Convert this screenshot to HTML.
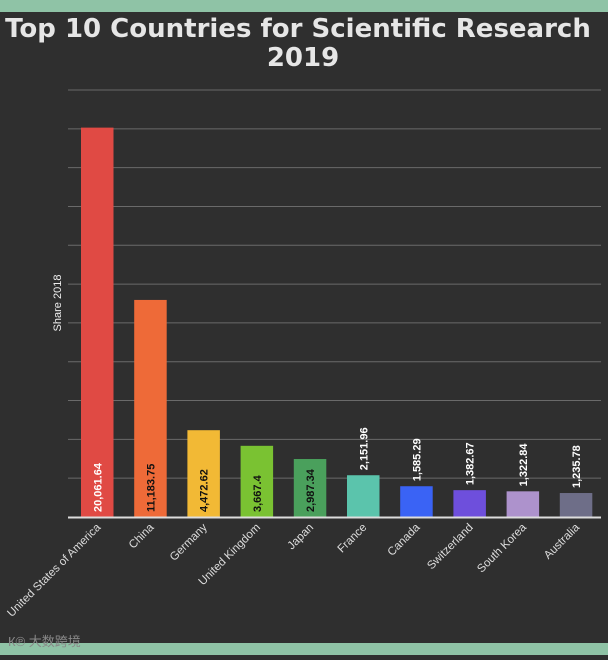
<!DOCTYPE html>
<html><head><meta charset="utf-8"><style>
body{margin:0;width:608px;height:655px;background:#2f2f2f;overflow:hidden;font-family:"Liberation Sans","Noto Sans CJK SC",sans-serif}
</style></head><body>
<svg width="608" height="655" xmlns="http://www.w3.org/2000/svg">
<rect x="0" y="0" width="608" height="12" fill="#8fc3a6"/>
<rect x="0" y="643" width="608" height="12" fill="#8fc3a6"/>
<text x="298" y="37" text-anchor="middle" fill="#e6e6e6" font-size="26" font-weight="bold" font-family="DejaVu Sans, sans-serif">Top 10 Countries for Scientific Research</text>
<text x="303" y="66" text-anchor="middle" fill="#e6e6e6" font-size="26" font-weight="bold" font-family="DejaVu Sans, sans-serif">2019</text>
<text transform="translate(61,303) rotate(-90)" text-anchor="middle" fill="#eee" font-size="11">Share 2018</text>
<g id="grid"></g><g id="bars"></g>
<line x1="68" x2="601" y1="517.5" y2="517.5" stroke="#ddd" stroke-width="2"/>
<text x="8" y="646" fill="#888" font-size="13">К℗ 大数跨境</text>
</svg>
<script>
const categories=["United States of America","China","Germany","United Kingdom","Japan","France","Canada","Switzerland","South Korea","Australia"];
const values=[20061.64,11183.75,4472.62,3667.4,2987.34,2151.96,1585.29,1382.67,1322.84,1235.78];
const labels=["20,061.64","11,183.75","4,472.62","3,667.4","2,987.34","2,151.96","1,585.29","1,382.67","1,322.84","1,235.78"];
const colors=["#e04a44","#ee6a38","#f2b935","#7ac232","#4aa05c","#5bc4ac","#3a63f5","#6e4fdc","#ad92cc","#6e6e88"];
const yMax=22000, yStep=2000;
const NS="http://www.w3.org/2000/svg";
const x0=68,x1=600,y0=517,y1=90;
const y=v=>y0-(v/yMax)*(y0-y1);
const band=(x1-x0)/categories.length;
const g=document.getElementById('grid'),b=document.getElementById('bars');
function mk(t,a,p){const e=document.createElementNS(NS,t);for(const k in a)e.setAttribute(k,a[k]);p.appendChild(e);return e;}
for(let v=yStep;v<=yMax;v+=yStep){
 const l=mk('line',{x1:x0,x2:x1+1,y1:y(v),y2:y(v),stroke:'#6a6a6a','stroke-width':1},g);
 
 
}
categories.forEach((c,i)=>{
 const bx=x0+13+i*band, w=32.5, top=y(values[i]), cx=bx+w/2;
 const r=mk('rect',{x:bx,y:top,width:w,height:y0-top,fill:colors[i]},b);
 
 
 const inside=(y0-top)>52;
 let t;
 if(inside){
  t=mk('text',{transform:`translate(${cx+4},${y0-5}) rotate(-90)`,fill:i==0?'#fff':'#111','font-size':11,'font-weight':'bold'},b);
 } else {
  t=mk('text',{transform:`translate(${cx+4},${top-5}) rotate(-90)`,fill:'#fff','font-size':11,'font-weight':'bold'},b);
 }
 t.textContent=labels[i];
 
 
 const lt=mk('text',{transform:`translate(${cx+4},${y0+11}) rotate(-45)`,fill:'#ddd','font-size':11.5,'text-anchor':'end'},b);
 lt.textContent=c;
 
 
});
</script>
</body></html>
